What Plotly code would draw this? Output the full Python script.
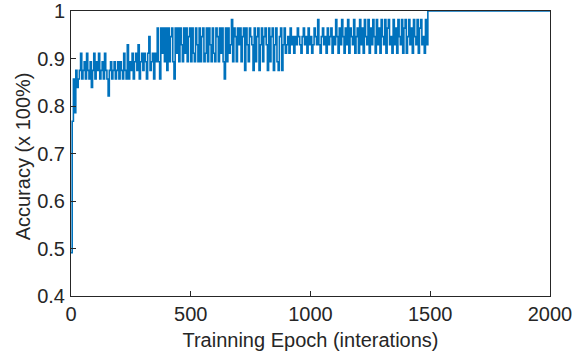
import plotly.graph_objects as go

# Iteration index of each sample (every 5 iterations up to 1485, then the plateau)
epochs = list(range(0, 1490, 5)) + [1490, 2000]

# Accuracy (fractions of 1)
accuracy = [
    0.491, 0.768, 0.857, 0.786, 0.875, 0.839, 0.857, 0.875, 0.911, 0.857,
    0.875, 0.893, 0.857, 0.911, 0.875, 0.857, 0.893, 0.839, 0.875, 0.911,
    0.857, 0.893, 0.875, 0.911, 0.857, 0.875, 0.893, 0.857, 0.911, 0.875,
    0.857, 0.821, 0.875, 0.893, 0.857, 0.875, 0.893, 0.857, 0.875, 0.893,
    0.857, 0.893, 0.875, 0.857, 0.911, 0.875, 0.857, 0.929, 0.857, 0.893,
    0.875, 0.911, 0.857, 0.893, 0.911, 0.875, 0.929, 0.857, 0.893, 0.911,
    0.875, 0.911, 0.893, 0.857, 0.911, 0.946, 0.875, 0.893, 0.911, 0.857,
    0.911, 0.893, 0.964, 0.893, 0.857, 0.964, 0.911, 0.964, 0.893, 0.964,
    0.875, 0.964, 0.893, 0.946, 0.964, 0.893, 0.857, 0.964, 0.911, 0.964,
    0.893, 0.964, 0.929, 0.893, 0.964, 0.911, 0.964, 0.893, 0.946, 0.964,
    0.893, 0.964, 0.911, 0.893, 0.964, 0.929, 0.893, 0.964, 0.893, 0.946,
    0.964, 0.893, 0.911, 0.964, 0.893, 0.964, 0.929, 0.893, 0.964, 0.911,
    0.893, 0.964, 0.946, 0.893, 0.964, 0.911, 0.964, 0.893, 0.857, 0.964,
    0.893, 0.964, 0.911, 0.929, 0.982, 0.893, 0.964, 0.946, 0.893, 0.964,
    0.929, 0.964, 0.893, 0.946, 0.964, 0.875, 0.964, 0.929, 0.893, 0.964,
    0.946, 0.929, 0.875, 0.964, 0.893, 0.946, 0.964, 0.875, 0.929, 0.964,
    0.893, 0.946, 0.964, 0.929, 0.875, 0.964, 0.893, 0.946, 0.964, 0.875,
    0.929, 0.964, 0.893, 0.875, 0.946, 0.964, 0.875, 0.929, 0.964, 0.911,
    0.929, 0.946, 0.911, 0.964, 0.929, 0.946, 0.911, 0.946, 0.929, 0.964,
    0.946, 0.929, 0.911, 0.946, 0.964, 0.929, 0.946, 0.911, 0.964, 0.929,
    0.946, 0.911, 0.929, 0.964, 0.946, 0.929, 0.982, 0.929, 0.911, 0.946,
    0.964, 0.929, 0.946, 0.911, 0.964, 0.929, 0.946, 0.964, 0.911, 0.946,
    0.929, 0.982, 0.946, 0.911, 0.964, 0.929, 0.982, 0.946, 0.911, 0.964,
    0.929, 0.982, 0.911, 0.964, 0.946, 0.929, 0.982, 0.911, 0.946, 0.964,
    0.911, 0.982, 0.929, 0.964, 0.911, 0.982, 0.946, 0.929, 0.982, 0.911,
    0.964, 0.929, 0.982, 0.946, 0.911, 0.982, 0.929, 0.964, 0.911, 0.982,
    0.946, 0.929, 0.982, 0.911, 0.964, 0.982, 0.929, 0.946, 0.911, 0.982,
    0.929, 0.964, 0.911, 0.982, 0.946, 0.929, 0.982, 0.911, 0.964, 0.982,
    0.911, 0.946, 0.982, 0.929, 0.964, 0.911, 0.982, 0.946, 0.929, 0.982,
    0.911, 0.964, 0.982, 0.929, 0.946, 0.911, 0.982, 0.929,
    1.0, 1.0,
]

x_ticks = [0, 500, 1000, 1500, 2000]
x_tick_labels = ["0", "500", "1000", "1500", "2000"]
y_ticks = [0.4, 0.5, 0.6, 0.7, 0.8, 0.9, 1.0]
y_tick_labels = ["0.4", "0.5", "0.6", "0.7", "0.8", "0.9", "1"]

x_title = "Trainning Epoch (interations)"
y_title = "Accuracy (x 100%)"

assert len(epochs) == len(accuracy)

FONT = "Liberation Sans, Arial, sans-serif"
TXT = "#262626"

fig = go.Figure()
fig.add_trace(go.Scatter(
    x=epochs, y=accuracy, mode="lines",
    line=dict(color="#0072BD", width=1.6, shape="hv"),
    hoverinfo="skip", showlegend=False,
))

axis_common = dict(
    showgrid=False, zeroline=False, automargin=False,
    showline=True, linecolor=TXT, linewidth=1, mirror=True,
    ticks="inside", ticklen=5, tickwidth=1, tickcolor=TXT,
    tickfont=dict(family=FONT, size=20, color=TXT),
    ticklabeloverflow="allow",
)

fig.update_xaxes(
    range=[0, 2000], tickvals=x_ticks, ticktext=x_tick_labels,
    title=dict(text=x_title, font=dict(family=FONT, size=20, color=TXT), standoff=8),
    **axis_common,
)
fig.update_yaxes(
    range=[0.4, 1.0], tickvals=y_ticks, ticktext=y_tick_labels,
    ticklabelstandoff=1,
    **axis_common,
)

# y-axis title as a rotated annotation for precise placement
fig.add_annotation(
    text=y_title, textangle=-90, showarrow=False,
    xref="paper", yref="paper", x=0, y=0.49,
    xanchor="center", yanchor="middle", xshift=-48,
    font=dict(family=FONT, size=20, color=TXT),
)

fig.update_layout(
    width=580, height=355,
    margin=dict(l=71, r=30, t=11, b=59),
    paper_bgcolor="white", plot_bgcolor="white",
)

# remove the default page margin so the figure sits at the window's top-left corner
fig.write_html(
    "out.html",
    config={"displayModeBar": False},
    post_script="document.body.style.margin='0';",
)
